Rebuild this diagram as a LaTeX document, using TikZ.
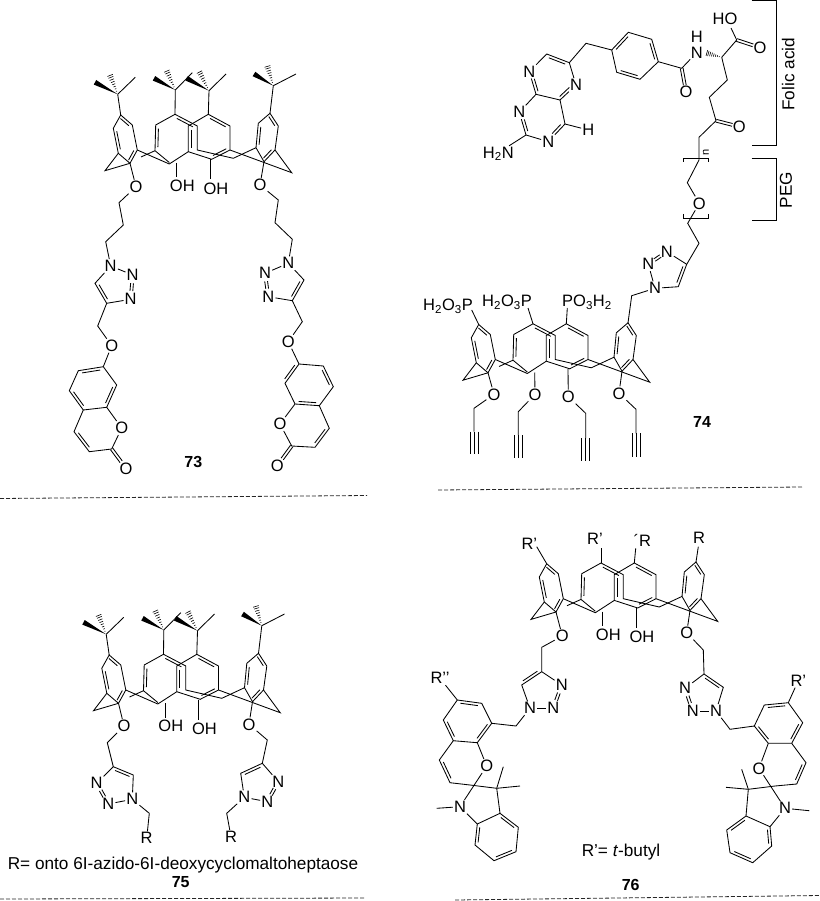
\documentclass[tikz,border=0pt]{standalone}
\usepackage{fontspec}
\setmainfont{Liberation Sans}
\usetikzlibrary{calc}
\newcommand\dbli[4]{\draw ($#1!#3!#2!2.8pt!90:#2$) -- ($#1!#4!#2!2.8pt!90:#2$);}
\newcommand\dbl[2]{\dbli{#1}{#2}{.14}{.86}}
\newcommand\twin[4]{\draw ($#1!#3!#2!1.4pt!90:#2$) -- ($#1!#4!#2!1.4pt!90:#2$);
  \draw ($#1!#3!#2!1.4pt!-90:#2$) -- ($#1!#4!#2!1.4pt!-90:#2$);}
\newcommand\hashb[2]{\foreach \hh in {.16,.28,.40,.52,.64,.76,.88,.98}{%
  \pgfmathsetmacro\hw{\hh*3}%
  \draw[line width=.6pt] ($#1!\hh!#2!\hw pt!90:#2$) -- ($#1!\hh!#2!\hw pt!-90:#2$);}}
\newcommand\wedgeb[2]{\fill ($#2!2.6pt!90:#1$) -- ($#2!2.6pt!-90:#1$) -- #1 -- cycle;}
\newcommand\tbu[5]{\draw #1 -- #2; \draw #2 -- #5; \wedgeb{#2}{#3}\hashb{#2}{#4}}
\newcommand\trip[3]{\draw (#1,#2) -- (#1,#3); \draw ({#1-4},#2) -- ({#1-4},#3); \draw ({#1+4},#2) -- ({#1+4},#3);}
% calixarene skeleton, local coordinates are those of compound 73
\newcommand\calix[3]{\begin{scope}[shift={(#2,#3)}]
 \coordinate (#1At) at (120.7,115); \coordinate (#1Ab) at (130,163.3);
 \coordinate (#1Bt) at (175,114.3); \coordinate (#1Bb) at (176.7,163);
 \coordinate (#1Ct) at (208.3,114.3); \coordinate (#1Cb) at (210,159.5);
 \coordinate (#1Dt) at (270,113.3); \coordinate (#1Db) at (264,161.7);
 \draw (120.7,115) -- (132.3,125) -- (137.3,150) -- (130,163.3) -- (118.3,153.3) -- (113.3,128.3) -- cycle;
 \dbl{(132.3,125)}{(120.7,115)}\dbl{(130,163.3)}{(137.3,150)}\dbl{(113.3,128.3)}{(118.3,153.3)}
 \draw (118.3,153.3) -- (105,170.7) -- (130,163.3);
 \draw (137.3,150) -- (169.3,164) -- (188.3,151.7);
 \draw (169.3,162.5) -- (155,150.7) -- (155.7,125) -- (175,114.3) -- (197.3,126) -- (197.3,150) -- (233.3,158.3) -- (256,147.7);
 \draw (141,157) -- (155,150.7);
 \dbl{(155.7,125)}{(155,150.7)}\dbl{(197.3,126)}{(175,114.3)}
 \draw (188.3,151.7) -- (188.3,126) -- (208.3,114.3) -- (230,126) -- (230,150) -- (211.7,159.3) -- cycle;
 \dbl{(188.3,126)}{(188.3,151.7)}\dbl{(230,126)}{(208.3,114.3)}\dbl{(211.7,159.3)}{(230,150)}
 \draw (230,150) -- (291.7,172.7) -- (275,150);
 \draw (270,113.3) -- (278.3,126) -- (275,150) -- (264,161.7) -- (256,147.7) -- (258.3,123.3) -- cycle;
 \dbl{(278.3,126)}{(270,113.3)}\dbl{(264,161.7)}{(275,150)}\dbl{(258.3,123.3)}{(256,147.7)}
 \end{scope}}
\newcommand\ohs[3]{\begin{scope}[shift={(#2,#3)}]
 \node[atom] (#1oh1) at (182.3,186) {OH};
 \node[atom] (#1oh2) at (216,188.3) {OH};
 \draw (#1Bb) -- (176.7,177.5); \draw (#1Cb) -- (210,179.5);
 \end{scope}}
\newcommand\tbus[3]{\begin{scope}[shift={(#2,#3)}]
 \tbu{(#1At)}{(117.7,94.3)}{(95,82.3)}{(110,75)}{(135.3,77.3)}
 \tbu{(#1Bt)}{(175.3,90)}{(154,78.3)}{(166.7,70.7)}{(192.3,72.7)}
 \tbu{(#1Ct)}{(209,90.7)}{(186.7,78.3)}{(199.3,71.7)}{(226,74)}
 \tbu{(#1Dt)}{(273.3,85.7)}{(254,74)}{(267.3,66)}{(296,74)}
 \end{scope}}
% triazole: prefix, N1, N2, N3, C4, C5
\newcommand\triaz[6]{%
 \node[atom] (#11) at (#2) {N}; \node[atom] (#12) at (#3) {N}; \node[atom] (#13) at (#4) {N};
 \coordinate (#14) at (#5); \coordinate (#15) at (#6);
 \draw (#11) -- (#12); \twin{(#12)}{(#13)}{.34}{.66}
 \draw (#13) -- (#14) -- (#15) -- (#11);}
\tikzset{atom/.style={font=\fontsize{16.5}{18}\selectfont,inner sep=.8pt,text depth=0pt},
 numlabel/.style={font=\fontsize{16}{18}\selectfont\bfseries,inner sep=0pt},
 note/.style={font=\fontsize{17.2}{19}\selectfont,inner sep=0pt},
 cut/.style={line width=.8pt,dash pattern=on 4pt off 2pt,black!85}}
\begin{document}
\begin{tikzpicture}[x=1pt,y=-1pt,line width=.85pt,line join=miter]
\useasboundingbox (0,0) rectangle (819,901);
%% ---------- 73
\calix{a}{0}{0}\ohs{a}{0}{0}\tbus{a}{0}{0}
\node[atom] (ao1) at (136,186.7) {O};
\node[atom] (ao2) at (260,185) {O};
\draw (aAb) -- (ao1); \draw (aDb) -- (ao2);
\triaz{at}{110.7,266}{132.7,275}{130.7,299.3}{106.7,303.3}{95,283.3}
\dbl{(at5)}{(at4)}
\draw (ao1) -- (119,202.7) -- (123.3,225) -- (105.7,241.7) -- (at1);
\node[atom] (ao3) at (111.7,345.7) {O};
\draw (at4) -- (97.7,326) -- (ao3) -- (103.3,366.7);
\draw (103.3,366.7) -- (116.7,385) -- (106.7,407.3) -- (83.3,410) -- (69.3,390.7) -- (78.3,370.7) -- cycle;
\dbl{(103.3,366.7)}{(78.3,370.7)}\dbl{(106.7,407.3)}{(116.7,385)}\dbl{(69.3,390.7)}{(83.3,410)}
\node[atom] (ao4) at (121.7,428) {O};
\node[atom] (ao5) at (126,468.3) {O};
\draw (106.7,407.3) -- (ao4) -- (111.7,449) -- (89.3,451.7) -- (74,431.7) -- (83.3,410);
\dbl{(74,431.7)}{(89.3,451.7)}
\twin{(111.7,449)}{(ao5)}{0}{.66}
\triaz{bt}{288.3,263.3}{265,273.3}{268.3,296.7}{292.3,300.7}{304,280}
\dbl{(bt4)}{(bt5)}
\draw (ao2) -- (278.3,200) -- (275,222.7) -- (292.3,239.3) -- (bt1);
\node[atom] (ao6) at (288.3,341.7) {O};
\draw (bt4) -- (302.3,321.7) -- (ao6) -- (299,364);
\draw (299,364) -- (323.3,366) -- (333.3,386.7) -- (319.3,405.7) -- (295,404) -- (285,383.3) -- cycle;
\dbl{(285,383.3)}{(299,364)}\dbl{(333.3,386.7)}{(323.3,366)}\dbl{(295,404)}{(319.3,405.7)}
\node[atom] (ao7) at (280,424) {O};
\node[atom] (ao8) at (277.3,465.7) {O};
\draw (295,404) -- (ao7) -- (291.7,446) -- (315,447.3) -- (329.3,428.3) -- (319.3,405.7);
\dbl{(315,447.3)}{(329.3,428.3)}
\twin{(291.7,446)}{(ao8)}{0}{.66}
\node[numlabel] (n73) at (193.3,461.7) {73};
\coordinate (d1a) at (0,498.5); \coordinate (d1b) at (367,495.5);
\draw[cut] (d1a) -- (d1b);
%% ---------- 74 top
\node[atom] (pn8) at (529.3,71.7) {N};
\node[atom] (pn5) at (576,85) {N};
\node[atom] (pn1) at (519.3,112.3) {N};
\node[atom] (pn3) at (548.3,141.7) {N};
\node[atom] (ph) at (588.3,130) {H};
\node[atom] (pnh2) at (498.3,152.7) {H\textsubscript{2}N};
\draw (pn8) -- (546.7,54) -- (569.3,62.7) -- (pn5) -- (560,100) -- (536,94.3) -- (pn8);
\dbl{(569.3,62.7)}{(546.7,54)}\dbli{(560,100)}{(pn5)}{.1}{.7}\dbli{(pn8)}{(536,94.3)}{.35}{.9}
\draw (536,94.3) -- (pn1) -- (526,135) -- (pn3) -- (565,124) -- (560,100);
\dbli{(pn1)}{(526,135)}{.35}{.86}\dbli{(pn3)}{(565,124)}{.35}{.86}
\draw (565,124) -- (ph); \draw (526,135) -- (pnh2);
\draw (569.3,62.7) -- (586,43.3) -- (611.7,50);
\draw (611.7,50) -- (628.3,32.3) -- (651.7,39.3) -- (658.3,61.7) -- (640,79.3) -- (616.7,72.3) -- cycle;
\dbl{(628.3,32.3)}{(611.7,50)}\dbl{(658.3,61.7)}{(651.7,39.3)}\dbl{(616.7,72.3)}{(640,79.3)}
\node[atom] (po1) at (686,91.7) {O};
\node[atom] (pnn) at (696.7,52.5) {N};
\node[atom] (pnh) at (696.7,36.5) {H};
\node[atom] (pho) at (725,18.3) {HO};
\node[atom] (po2) at (760,47.7) {O};
\node[atom] (po3) at (739.3,126.7) {O};
\node[atom] (po4) at (699.3,203.3) {O};
\draw (658.3,61.7) -- (681.7,68.3) -- (pnn);
\twin{(681.7,68.3)}{(po1)}{0}{.72}
\hashb{(721.7,57.3)}{(706.5,53)}
\draw (721.7,57.3) -- (736.7,40) -- (731,28);
\twin{(736.7,40)}{(po2)}{0}{.7}
\draw (721.7,57.3) -- (727.3,80) -- (709.3,97.3) -- (716,120.7) -- (699,137.3) -- (699,160) -- (687.3,182.7) -- (po4) -- (687.7,223.3) -- (699,243.3) -- (686.7,264.3);
\twin{(716,120.7)}{(po3)}{0}{.7}
\draw (683.5,162) -- (683.5,158) -- (708,158) -- (708,162);
\node[font=\fontsize{11}{12}\selectfont,rotate=90,inner sep=0pt] (pn) at (706,152) {n};
\draw (683.5,214) -- (683.5,218) -- (708.3,218) -- (708.3,214);
\coordinate (fa1) at (751.7,0.5); \coordinate (fa2) at (776,0.5); \coordinate (fa3) at (776,145.5); \coordinate (fa4) at (751.7,145.5);
\draw (fa1) -- (fa2) -- (fa3) -- (fa4);
\coordinate (pg1) at (751.7,158.3); \coordinate (pg2) at (776,158.3); \coordinate (pg3) at (776,220.7); \coordinate (pg4) at (752.3,220.7);
\draw (pg1) -- (pg2) -- (pg3) -- (pg4);
\node[note,rotate=90] (lfa) at (788.3,74.3) {Folic acid};
\node[note,rotate=90] (lpg) at (786,190) {PEG};
%% ---------- 74 calix
\calix{c}{358}{209.5}
\triaz{ct}{655,288.3}{648.3,264.3}{666.7,251.7}{686.7,264.3}{678.3,286.7}
\dbl{(ct5)}{(ct4)}
\draw (ct1) -- (631.7,295.7) -- (cDt);
\node[atom,anchor=east] (cp1) at (474,305) {H\textsubscript{2}O\textsubscript{3}P};
\node[atom,anchor=east] (cp2) at (533,301) {H\textsubscript{2}O\textsubscript{3}P};
\node[atom,anchor=west] (cp3) at (561,301) {PO\textsubscript{3}H\textsubscript{2}};
\draw (cAt) -- (471.7,310); \draw (cBt) -- (528,308); \draw (cCt) -- (567.3,308);
\node[atom] (co1) at (494,394.3) {O};
\node[atom] (co2) at (535,394.3) {O};
\node[atom] (co3) at (568.3,396.7) {O};
\node[atom] (co4) at (619,393.3) {O};
\draw (cAb) -- (co1) -- (474,408.3) -- (474,431.7);
\draw (cBb) -- (co2) -- (518.3,411.7) -- (518.3,435);
\draw (cCb) -- (co3) -- (585.7,413.3) -- (585.7,438.3);
\draw (cDb) -- (co4) -- (636,409.3) -- (636,433.3);
\trip{474}{431.7}{454}\trip{518.3}{435}{458.3}\trip{585.7}{438.3}{460.7}\trip{636}{433.3}{457.3}
\node[numlabel] (n74) at (702,421.7) {74};
\coordinate (d2a) at (438,490); \coordinate (d2b) at (803,487);
\draw[cut] (d2a) -- (d2b);
%% ---------- 75
\calix{e}{-11.5}{540}\ohs{e}{-11.5}{540}\tbus{e}{-11.5}{540}
\node[atom] (eo1) at (124,726) {O};
\node[atom] (eo2) at (249,724.3) {O};
\draw (eAb) -- (eo1) -- (107.3,742.7) -- (113.3,766.7);
\draw (eDb) -- (eo2) -- (267.3,740) -- (262.3,763.3);
\triaz{et}{132.3,799.3}{108.3,804}{96.7,783.3}{113.3,766.7}{133.3,775}
\dbl{(et5)}{(et4)}
\triaz{ft}{244.3,797.3}{267.3,801.7}{278.3,781.7}{262.3,763.3}{240.7,773.3}
\dbl{(ft4)}{(ft5)}
\node[atom] (er1) at (146.7,838.3) {R};
\node[atom] (er2) at (231,836.7) {R};
\draw (et1) -- (149.3,813.3) -- (er1);
\draw (ft1) -- (226.7,813.3) -- (er2);
\node[note] (lr) at (183,865) {R= onto 6I-azido-6I-deoxycyclomaltoheptaose};
\node[numlabel] (n75) at (180.7,881.7) {75};
\coordinate (d3a) at (0,899); \coordinate (d3b) at (365,898);
\draw[cut] (d3a) -- (d3b);
%% ---------- 76
\calix{g}{426}{448.7}\ohs{g}{426}{448.7}
\node[atom] (gr1) at (529.3,544.3) {R'};
\node[atom] (gr2) at (595,539.3) {R'};
\node[atom] (gr3) at (642.3,540) {´R};
\node[atom] (gr4) at (699,538.3) {R};
\draw (gAt) -- (536.7,546.7); \draw (gBt) -- (601,548.3); \draw (gCt) -- (635.7,548.3); \draw (gDt) -- (698.3,546.7);
\node[atom] (go1) at (562.3,636) {O};
\node[atom] (go2) at (686.7,632.7) {O};
\draw (gAb) -- (go1) -- (541.7,647.3) -- (541.7,671.7);
\draw (gDb) -- (go2) -- (703.3,650) -- (704,674);
\triaz{gt}{530,708.3}{553.3,708.3}{561.7,685}{541.7,671.7}{521.7,685}
\dbl{(gt5)}{(gt4)}
\triaz{ht}{716,711}{692.7,711}{685,688.3}{704,674}{723.3,687.3}
\dbl{(ht5)}{(ht4)}
% left spiropyran
\draw (gt1) -- (516,726) -- (491.7,723.3);
\draw (491.7,723.3) -- (481.7,703.3) -- (457.3,700) -- (443.3,720) -- (453.3,740.7) -- (477.3,742.7) -- cycle;
\dbl{(481.7,703.3)}{(457.3,700)}\dbl{(443.3,720)}{(453.3,740.7)}\dbl{(477.3,742.7)}{(491.7,723.3)}
\node[atom] (go3) at (486.7,766) {O};
\node[atom] (gn1) at (460,806.7) {N};
\node[atom] (gr5) at (440,678.3) {R'{}'};
\draw (457.3,700) -- (gr5);
\draw (477.3,742.7) -- (go3) -- (gn1);
\draw (453.3,740.7) -- (439.3,760) -- (450,782.7) -- (470,785) -- (496.7,788.3) -- (503.3,766.7);
\dbl{(439.3,760)}{(450,782.7)}
\draw (496.7,788.3) -- (520,786); \draw (496.7,788.3) -- (500,813.3);
\draw (gn1) -- (436.7,808.3); \draw (gn1) -- (477.3,824);
\draw (500,813.3) -- (518.3,827.3) -- (516,851.7) -- (494,860.7) -- (475,845) -- (477.3,824) -- cycle;
\dbl{(518.3,827.3)}{(500,813.3)}\dbl{(494,860.7)}{(516,851.7)}\dbl{(477.3,824)}{(475,845)}
% right spiropyran
\draw (ht1) -- (730,729.3) -- (754.3,726);
\draw (754.3,726) -- (764.3,705) -- (788.3,702.7) -- (802.7,722.7) -- (791.7,743.3) -- (768.3,743.3) -- cycle;
\dbl{(788.3,702.7)}{(764.3,705)}\dbl{(791.7,743.3)}{(802.7,722.7)}\dbl{(754.3,726)}{(768.3,743.3)}
\node[atom] (go4) at (759,768.3) {O};
\node[atom] (gn2) at (785,808.3) {N};
\node[atom] (gr6) at (798.3,680.7) {R'};
\draw (788.3,702.7) -- (gr6);
\draw (768.3,743.3) -- (go4) -- (gn2);
\draw (791.7,743.3) -- (806,762.7) -- (796.7,784) -- (775,786) -- (748.3,789.3) -- (741.7,769.3);
\dbl{(796.7,784)}{(806,762.7)}
\draw (748.3,789.3) -- (726,787.3); \draw (748.3,789.3) -- (746,816);
\draw (gn2) -- (809.3,810.7); \draw (gn2) -- (770,826.7);
\draw (746,816) -- (770,826.7) -- (771.7,846) -- (752.7,862.7) -- (730,852.7) -- (726.7,830) -- cycle;
\dbl{(746,816)}{(726.7,830)}\dbl{(730,852.7)}{(752.7,862.7)}\dbl{(771.7,846)}{(770,826.7)}
\node[note] (lt) at (621,851.7) {R'= \textit{t}-butyl};
\node[numlabel] (n76) at (630.7,885) {76};
\coordinate (d4a) at (455,900); \coordinate (d4b) at (819,895.5);
\draw[cut] (d4a) -- (d4b);
\end{tikzpicture}
\end{document}
